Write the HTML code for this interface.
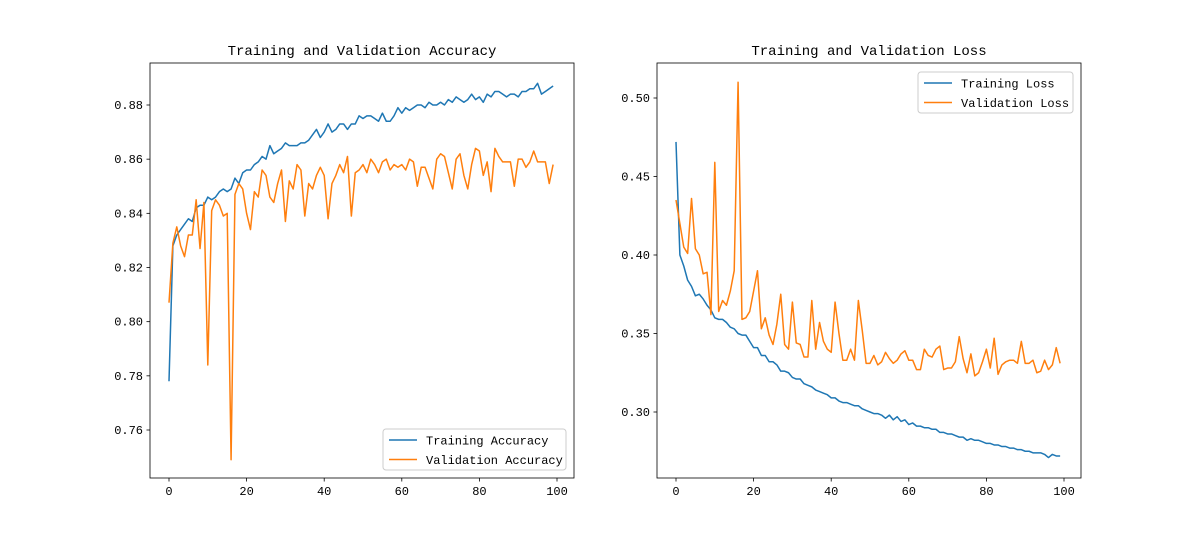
<!DOCTYPE html>
<html><head><meta charset="utf-8"><style>
body{margin:0;background:#fff}
svg text{font-family:"Liberation Mono","WenQuanYi Zen Hei",monospace;fill:#000}
</style></head><body>
<svg id="fig" width="1200" height="537" xmlns="http://www.w3.org/2000/svg"></svg>
<script>
const epochs = Array.from({length:100},(_,i)=>i);
const trainAcc=[0.778,0.828,0.832,0.834,0.836,0.838,0.837,0.842,0.843,0.843,0.846,0.845,0.846,0.848,0.849,0.848,0.849,0.853,0.851,0.855,0.856,0.856,0.858,0.859,0.861,0.860,0.865,0.862,0.863,0.864,0.866,0.865,0.865,0.865,0.866,0.866,0.867,0.869,0.871,0.868,0.870,0.873,0.870,0.871,0.873,0.873,0.871,0.873,0.873,0.876,0.875,0.876,0.876,0.875,0.874,0.877,0.874,0.874,0.876,0.879,0.877,0.879,0.878,0.879,0.880,0.880,0.879,0.881,0.880,0.880,0.881,0.880,0.882,0.881,0.883,0.882,0.881,0.882,0.884,0.882,0.883,0.881,0.884,0.883,0.885,0.885,0.884,0.883,0.884,0.884,0.883,0.885,0.885,0.886,0.886,0.888,0.884,0.885,0.886,0.887];
const valAcc=[0.807,0.829,0.835,0.828,0.824,0.832,0.832,0.845,0.827,0.844,0.784,0.841,0.845,0.843,0.839,0.840,0.749,0.847,0.851,0.849,0.840,0.834,0.848,0.846,0.856,0.854,0.846,0.844,0.851,0.856,0.837,0.852,0.849,0.858,0.856,0.839,0.851,0.849,0.854,0.857,0.854,0.838,0.851,0.854,0.858,0.855,0.861,0.839,0.855,0.856,0.858,0.855,0.860,0.858,0.855,0.859,0.860,0.856,0.858,0.857,0.858,0.856,0.860,0.859,0.850,0.857,0.857,0.853,0.849,0.860,0.862,0.861,0.855,0.849,0.860,0.862,0.854,0.849,0.858,0.864,0.863,0.854,0.859,0.848,0.864,0.861,0.859,0.859,0.859,0.850,0.860,0.860,0.857,0.859,0.863,0.859,0.859,0.859,0.851,0.858];
const trainLoss=[0.472,0.400,0.393,0.384,0.380,0.374,0.375,0.372,0.368,0.365,0.360,0.359,0.359,0.357,0.354,0.353,0.350,0.349,0.349,0.345,0.341,0.341,0.336,0.336,0.332,0.332,0.330,0.326,0.326,0.325,0.322,0.321,0.321,0.318,0.317,0.316,0.314,0.313,0.312,0.311,0.309,0.309,0.307,0.306,0.306,0.305,0.304,0.304,0.302,0.301,0.300,0.299,0.299,0.298,0.296,0.298,0.295,0.297,0.294,0.295,0.292,0.293,0.291,0.291,0.290,0.290,0.289,0.289,0.287,0.287,0.286,0.286,0.285,0.284,0.284,0.282,0.283,0.282,0.282,0.281,0.280,0.280,0.279,0.279,0.278,0.278,0.277,0.277,0.276,0.276,0.275,0.275,0.274,0.274,0.274,0.273,0.271,0.273,0.272,0.272];
const valLoss=[0.435,0.420,0.405,0.401,0.436,0.404,0.400,0.388,0.389,0.362,0.459,0.364,0.371,0.368,0.377,0.390,0.510,0.359,0.360,0.364,0.377,0.390,0.353,0.360,0.349,0.343,0.356,0.375,0.343,0.340,0.370,0.344,0.343,0.335,0.335,0.371,0.340,0.357,0.345,0.340,0.338,0.370,0.350,0.333,0.333,0.340,0.333,0.371,0.352,0.331,0.331,0.336,0.330,0.332,0.338,0.334,0.331,0.333,0.337,0.339,0.333,0.333,0.327,0.327,0.340,0.336,0.335,0.340,0.342,0.327,0.328,0.328,0.332,0.348,0.334,0.325,0.337,0.323,0.325,0.332,0.340,0.328,0.347,0.324,0.330,0.332,0.333,0.333,0.331,0.345,0.331,0.331,0.333,0.325,0.326,0.333,0.327,0.330,0.341,0.331];
const xTicks=[0,20,40,60,80,100];
const accTicks=[0.76,0.78,0.80,0.82,0.84,0.86,0.88];
const lossTicks=[0.30,0.35,0.40,0.45,0.50];

const NS="http://www.w3.org/2000/svg";
const svg=document.getElementById('fig');
function mk(tag,attrs,parent){const e=document.createElementNS(NS,tag);for(const k in attrs)e.setAttribute(k,attrs[k]);(parent||svg).appendChild(e);return e;}

function panel(cfg){
  const g=mk('g',{});
  
  
  const {x0,x1,y0,y1}=cfg.box;
  const sx=v=>cfg.px0+(v-0)*(cfg.px100-cfg.px0)/100;
  const sy=v=>cfg.ya+(v-cfg.va)*(cfg.yb-cfg.ya)/(cfg.vb-cfg.va);
  cfg.series.forEach(s=>{
    const d=s.data.map((v,i)=>(i?'L':'M')+sx(epochs[i]).toFixed(2)+','+sy(v).toFixed(2)).join('');
    const p=mk('path',{d,fill:'none',stroke:s.color,'stroke-width':1.5,'stroke-linejoin':'round'},g);
    
    
  });
  const frame=mk('rect',{x:x0,y:y0,width:x1-x0,height:y1-y0,fill:'none',stroke:'#000','stroke-width':0.8},g);
  
  
  xTicks.forEach(t=>{
    const x=sx(t);
    mk('line',{x1:x,x2:x,y1:y1,y2:y1+3.5,stroke:'#000','stroke-width':0.8},g);
    const tx=mk('text',{x:x,y:y1+17,'text-anchor':'middle','font-size':12},g);
    tx.textContent=t;
    
    
  });
  cfg.yTicks.forEach(t=>{
    const y=sy(t);
    mk('line',{x1:x0-3.5,x2:x0,y1:y,y2:y,stroke:'#000','stroke-width':0.8},g);
    const tx=mk('text',{x:x0-7,y:y+4,'text-anchor':'end','font-size':12},g);
    tx.textContent=t.toFixed(2);
    
    
  });
  const ti=mk('text',{x:(x0+x1)/2,y:y0-8,'text-anchor':'middle','font-size':14},g);
  ti.textContent=cfg.title;
  
  
  const L=cfg.legend;
  const lg=mk('g',{},g);
  
  
  mk('rect',{x:L.x,y:L.y,width:L.w,height:41,rx:3,fill:'#fff','fill-opacity':0.8,stroke:'#ccc'},lg);
  cfg.series.forEach((s,i)=>{
    const yy=L.y+11+i*19.5;
    mk('line',{x1:L.x+6,x2:L.x+34,y1:yy,y2:yy,stroke:s.color,'stroke-width':1.5},lg);
    const tx=mk('text',{x:L.x+43,y:yy+4.5,'font-size':12},lg);
    tx.textContent=s.label;
    
    
  });
}
panel({name:'accuracy-chart',title:'Training and Validation Accuracy',box:{x0:150,x1:574,y0:63,y1:478},
  px0:169,px100:557,ya:105,va:0.88,yb:430,vb:0.76,yTicks:accTicks,
  legend:{x:383,y:429,w:183},
  series:[{key:'training-accuracy-line',label:'Training Accuracy',color:'#1f77b4',data:trainAcc},
          {key:'validation-accuracy-line',label:'Validation Accuracy',color:'#ff7f0e',data:valAcc}]});
panel({name:'loss-chart',title:'Training and Validation Loss',box:{x0:657,x1:1081,y0:63,y1:478},
  px0:676,px100:1064,ya:98,va:0.50,yb:412,vb:0.30,yTicks:lossTicks,
  legend:{x:918,y:72,w:155},
  series:[{key:'training-loss-line',label:'Training Loss',color:'#1f77b4',data:trainLoss},
          {key:'validation-loss-line',label:'Validation Loss',color:'#ff7f0e',data:valLoss}]});
</script>
</body></html>
